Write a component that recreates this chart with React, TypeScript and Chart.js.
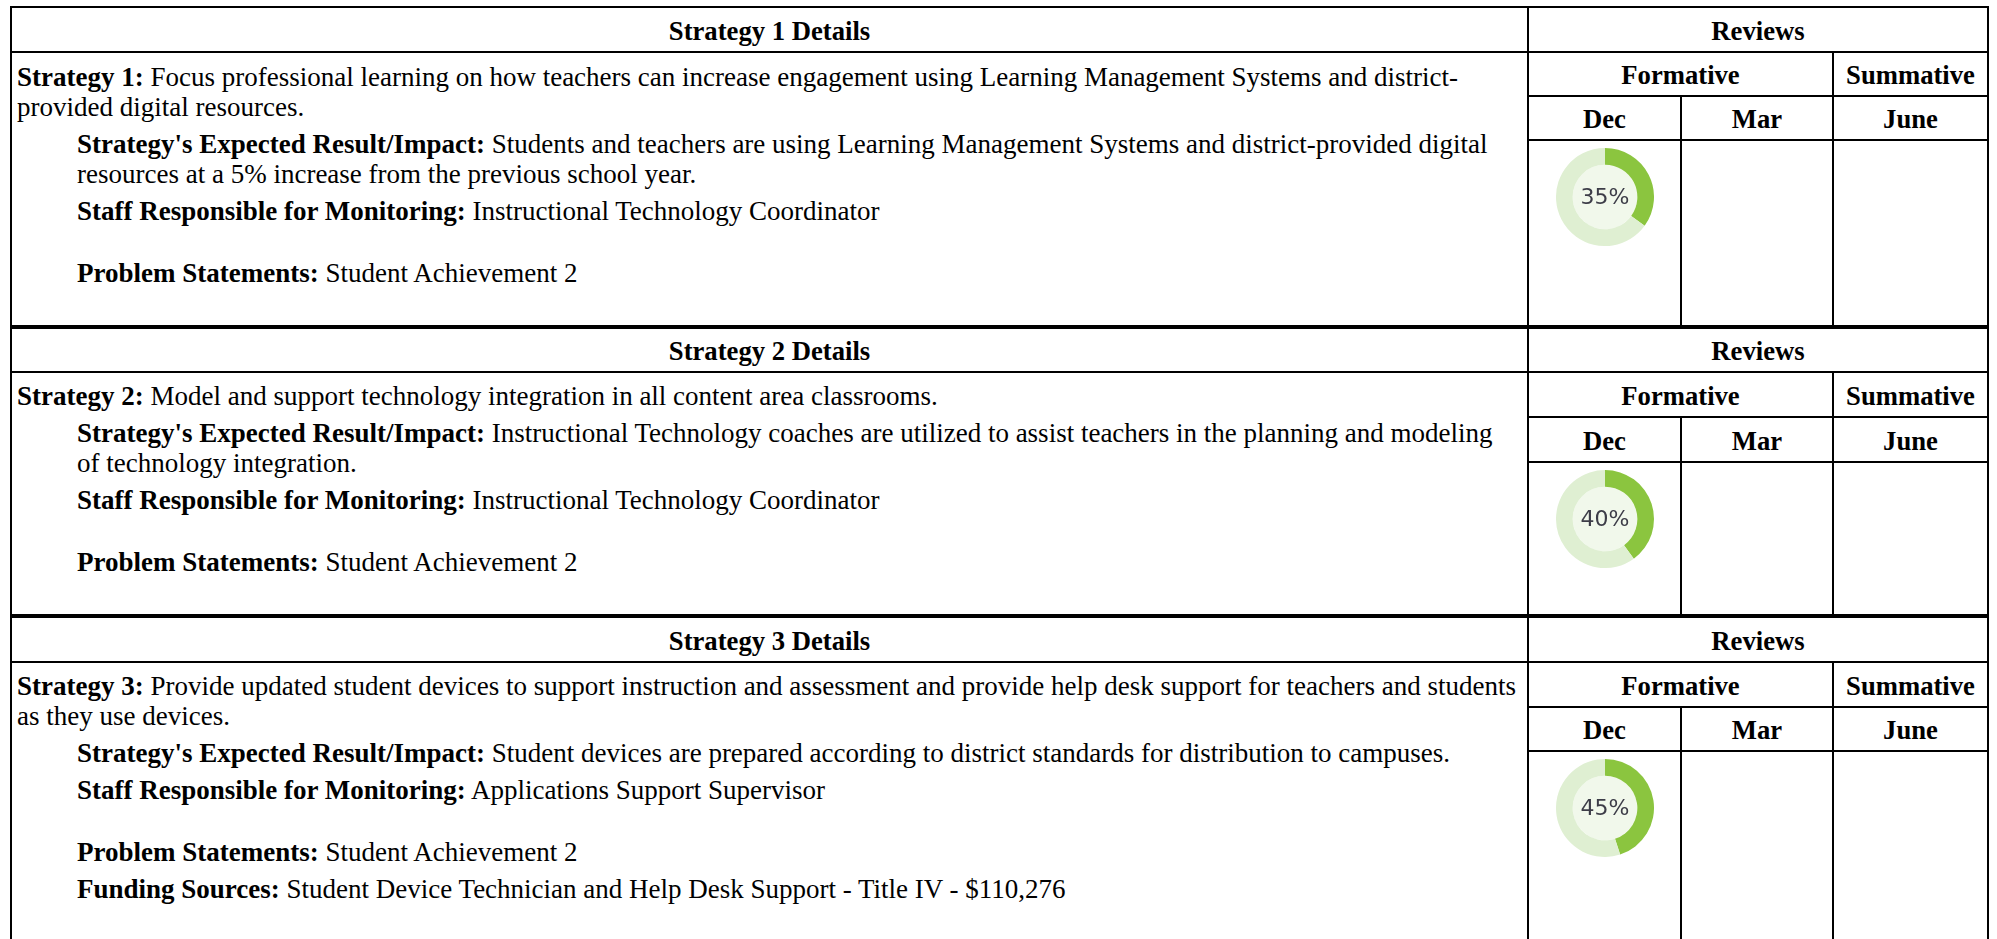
import React, { useEffect, useRef } from "react";
import { Chart, registerables } from "chart.js";

Chart.register(...registerables);

// ---------- data ----------
const strategyNumbers = [1, 2, 3];
const strategyTexts = [
  "Focus professional learning on how teachers can increase engagement using Learning Management Systems and district-provided digital resources.",
  "Model and support technology integration in all content area classrooms.",
  "Provide updated student devices to support instruction and assessment and provide help desk support for teachers and students as they use devices.",
];
const expectedResults = [
  "Students and teachers are using Learning Management Systems and district-provided digital resources at a 5% increase from the previous school year.",
  "Instructional Technology coaches are utilized to assist teachers in the planning and modeling of technology integration.",
  "Student devices are prepared according to district standards for distribution to campuses.",
];
const staffResponsible = [
  "Instructional Technology Coordinator",
  "Instructional Technology Coordinator",
  "Applications Support Supervisor",
];
const problemStatements = ["Student Achievement 2", "Student Achievement 2", "Student Achievement 2"];
const fundingSources = ["", "", "Student Device Technician and Help Desk Support - Title IV - $110,276"];
const reviewGroups = ["Formative", "Summative"];
const reviewMonths = ["Dec", "Mar", "June"];
const decReviewPercent = [35, 40, 45];

// ---------- layout ----------
const XL = 10, XD = 1527, XM1 = 1680, XM2 = 1832, XR = 1987;
const LW = 2;
const sections = [
  { top: 6, hdr: 51, frm: 95, dec: 139, bottom: 325 },
  { top: 327, hdr: 371, frm: 416, dec: 461, bottom: 614 },
  { top: 616, hdr: 661, frm: 706, dec: 750, bottom: 980 },
];

const SERIF = '"Times New Roman", "Liberation Serif", serif';
const FS_HEAD = 26.67;
const FS_BODY = 27;
const TEXT_LEFT = XL + LW + 5;
const TEXT_RIGHT = 1519;

const GREEN = "#8bc53f";
const RING = "#dfefd2";
const INNER = "#f1f8eb";

function Donut({ value, cx, cy }: { value: number; cx: number; cy: number }) {
  const ref = useRef<HTMLCanvasElement | null>(null);
  useEffect(() => {
    if (!ref.current) return;
    const plugin = {
      id: "centerFill",
      beforeDatasetsDraw(chart: any) {
        const arc = chart.getDatasetMeta(0).data[0] as any;
        if (!arc) return;
        const ctx = chart.ctx;
        ctx.save();
        ctx.fillStyle = INNER;
        ctx.beginPath();
        ctx.arc(arc.x, arc.y, arc.innerRadius, 0, Math.PI * 2);
        ctx.fill();
        ctx.restore();
      },
      afterDatasetsDraw(chart: any) {
        const arc = chart.getDatasetMeta(0).data[0] as any;
        if (!arc) return;
        const ctx = chart.ctx;
        ctx.save();
        ctx.fillStyle = "#3d3d48";
        ctx.font = '22px "DejaVu Sans", Verdana, sans-serif';
        ctx.textAlign = "center";
        ctx.textBaseline = "middle";
        ctx.fillText(value + "%", arc.x, arc.y + 1);
        ctx.restore();
      },
    };
    const chart = new Chart(ref.current, {
      type: "doughnut",
      data: {
        labels: ["Complete", "Remaining"],
        datasets: [
          {
            data: [value, 100 - value],
            backgroundColor: [GREEN, RING],
            borderWidth: 0,
          },
        ],
      },
      options: {
        animation: false,
        responsive: false,
        cutout: "66%",
        layout: { padding: 0 },
        plugins: { legend: { display: false }, tooltip: { enabled: false } },
        events: [],
      },
      plugins: [plugin],
    });
    return () => chart.destroy();
  }, [value]);
  const size = 98;
  return (
    <div style={{ position: "absolute", left: cx - size / 2, top: cy - size / 2, width: size, height: size }}>
      <canvas ref={ref} width={size} height={size} style={{ width: size, height: size, display: "block" }} />
    </div>
  );
}

function HLine({ x1, x2, y }: { x1: number; x2: number; y: number }) {
  return <div style={{ position: "absolute", left: x1, top: y, width: x2 - x1, height: LW, background: "#000" }} />;
}
function VLine({ x, y1, y2 }: { x: number; y1: number; y2: number }) {
  return <div style={{ position: "absolute", left: x, top: y1, width: LW, height: y2 - y1, background: "#000" }} />;
}
function Cell({ x1, x2, y1, y2, children }: { x1: number; x2: number; y1: number; y2: number; children: any }) {
  return (
    <div
      style={{
        position: "absolute",
        left: x1,
        top: y1,
        width: x2 - x1,
        height: y2 - y1,
        boxSizing: "border-box",
        paddingTop: 4,
        display: "flex",
        alignItems: "center",
        justifyContent: "center",
        fontWeight: "bold",
        fontSize: FS_HEAD,
        lineHeight: "29.5px",
        whiteSpace: "nowrap",
      }}
    >
      {children}
    </div>
  );
}

function Section({ i }: { i: number }) {
  const s = sections[i];
  const indent = { marginLeft: 60, marginTop: 7 };
  return (
    <>
      <HLine x1={XL} x2={XR + LW} y={s.top} />
      <HLine x1={XL} x2={XR + LW} y={s.hdr} />
      <HLine x1={XD} x2={XR + LW} y={s.frm} />
      <HLine x1={XD} x2={XR + LW} y={s.dec} />
      <HLine x1={XL} x2={XR + LW} y={s.bottom} />
      <VLine x={XL} y1={s.top} y2={s.bottom + LW} />
      <VLine x={XD} y1={s.top} y2={s.bottom + LW} />
      <VLine x={XR} y1={s.top} y2={s.bottom + LW} />
      <VLine x={XM1} y1={s.frm} y2={s.bottom + LW} />
      <VLine x={XM2} y1={s.hdr} y2={s.bottom + LW} />

      <Cell x1={XL + LW} x2={XD} y1={s.top + LW} y2={s.hdr}>
        {"Strategy " + strategyNumbers[i] + " Details"}
      </Cell>
      <Cell x1={XD + LW} x2={XR} y1={s.top + LW} y2={s.hdr}>Reviews</Cell>
      <Cell x1={XD + LW} x2={XM2} y1={s.hdr + LW} y2={s.frm}>{reviewGroups[0]}</Cell>
      <Cell x1={XM2 + LW} x2={XR} y1={s.hdr + LW} y2={s.frm}>{reviewGroups[1]}</Cell>
      <Cell x1={XD + LW} x2={XM1} y1={s.frm + LW} y2={s.dec}>{reviewMonths[0]}</Cell>
      <Cell x1={XM1 + LW} x2={XM2} y1={s.frm + LW} y2={s.dec}>{reviewMonths[1]}</Cell>
      <Cell x1={XM2 + LW} x2={XR} y1={s.frm + LW} y2={s.dec}>{reviewMonths[2]}</Cell>

      <div
        style={{
          position: "absolute",
          left: TEXT_LEFT,
          top: s.hdr + LW + (i === 0 ? 9 : 8),
          width: TEXT_RIGHT - TEXT_LEFT,
          fontSize: FS_BODY,
          lineHeight: "30px",
        }}
      >
        <div>
          <b>{"Strategy " + strategyNumbers[i] + ":"}</b> {strategyTexts[i]}
        </div>
        <div style={indent}>
          <b>Strategy's Expected Result/Impact:</b> {expectedResults[i]}
        </div>
        <div style={indent}>
          <b>Staff Responsible for Monitoring:</b> {staffResponsible[i]}
        </div>
        <div style={{ marginLeft: 60, marginTop: 32 }}>
          <b>Problem Statements:</b> {problemStatements[i]}
        </div>
        {fundingSources[i] ? (
          <div style={indent}>
            <b>Funding Sources:</b> {fundingSources[i]}
          </div>
        ) : null}
      </div>

      <Donut value={decReviewPercent[i]} cx={(XD + LW + XM1) / 2} cy={s.dec + LW + 56} />
    </>
  );
}

export default function App() {
  return (
    <div
      style={{
        position: "absolute",
        left: 0,
        top: 0,
        width: 1997,
        height: 939,
        overflow: "hidden",
        background: "#fff",
        fontFamily: SERIF,
        color: "#000",
      }}
    >
      {sections.map((_, i) => (
        <Section key={i} i={i} />
      ))}
    </div>
  );
}
